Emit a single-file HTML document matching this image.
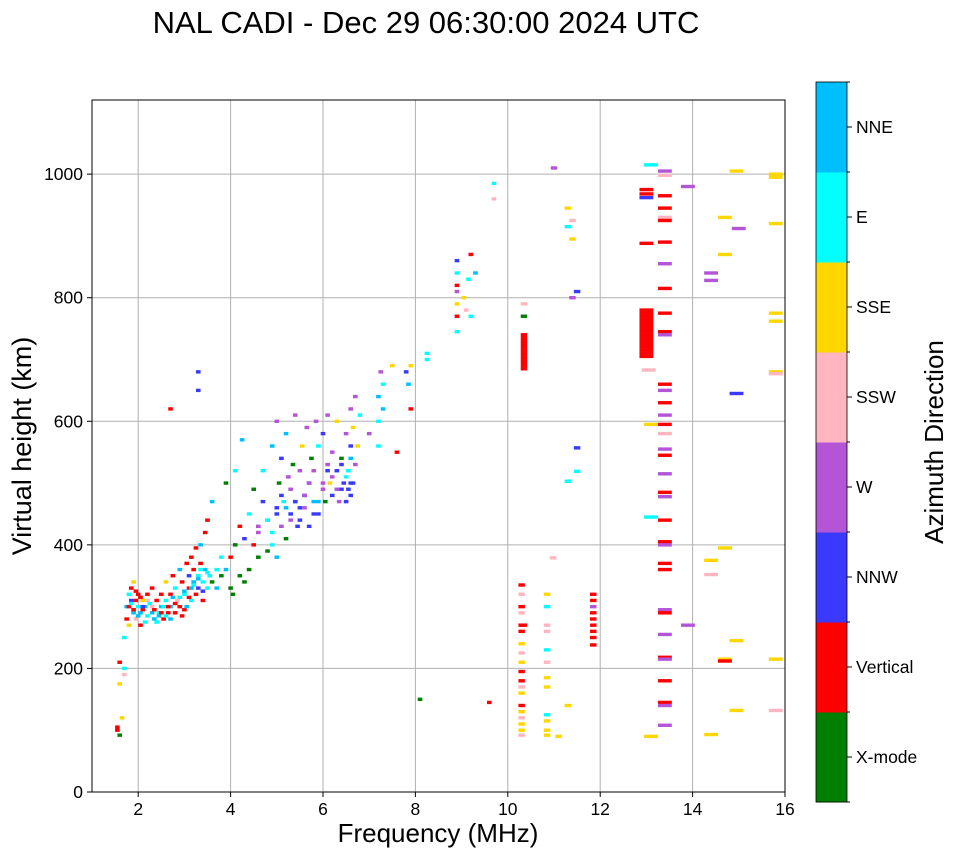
<!DOCTYPE html>
<html><head><meta charset="utf-8"><style>
body{margin:0;background:#fff;}
svg text{font-family:"Liberation Sans",sans-serif;fill:#000;}
</style></head><body>
<svg id="chart" width="958" height="857" viewBox="0 0 958 857" xmlns="http://www.w3.org/2000/svg">
<text x="426" y="33" font-size="31" text-anchor="middle">NAL CADI - Dec 29 06:30:00 2024 UTC</text>
<g id="grid"></g>
<g id="marks"></g>
<rect x="92" y="100" width="693" height="692" fill="none" stroke="#000" stroke-width="1"/>
<g id="axes"></g>
<text x="438" y="842" font-size="26" text-anchor="middle">Frequency (MHz)</text>
<text transform="translate(31,446) rotate(-90)" font-size="27" text-anchor="middle">Virtual height (km)</text>
<g id="cbar"></g>
<text transform="translate(943,442) rotate(-90)" font-size="26" text-anchor="middle">Azimuth Direction</text>
</svg>
<script>
const xTicks=[2,4,6,8,10,12,14,16];
const yTicks=[0,200,400,600,800,1000];
const dirNames=["X-mode","Vertical","NNW","W","SSW","SSE","E","NNE"];
const dirColors=["#008000","#ff0000","#3a3aff","#b455d8","#ffb6c1","#ffd700","#00ffff","#00bfff"];

const traceF=[1.55,1.55,1.6,1.6,1.6,1.65,1.7,1.7,1.7,1.75,1.75,1.8,1.8,1.8,1.85,1.85,1.9,1.9,1.95,1.95,2.0,2.0,2.05,2.05,2.1,2.1,2.15,2.2,2.2,2.3,2.3,2.35,2.4,2.45,2.5,2.5,2.55,2.6,2.6,2.65,2.7,2.7,2.75,2.8,2.8,2.85,2.9,2.9,2.95,3.0,3.0,3.05,3.05,3.1,3.1,3.15,3.15,3.2,3.2,3.25,3.25,3.3,3.3,3.35,3.35,3.4,3.4,3.45,3.45,3.5,3.5,3.55,3.6,3.6,3.7,3.7,3.8,3.8,3.9,3.9];
const traceH=[100,105,92,175,210,120,200,190,250,280,300,320,300,270,310,330,290,340,310,280,300,320,290,270,310,295,300,285,320,300,330,280,310,290,320,300,280,340,310,290,320,300,350,290,330,310,300,360,340,320,295,370,300,330,350,380,310,340,360,320,395,350,330,370,400,340,310,420,360,330,440,350,470,340,360,330,350,380,500,360];
const traceD=[1,1,0,5,1,5,6,4,6,1,7,6,1,5,2,1,7,5,1,4,6,1,7,1,5,1,7,6,1,4,1,7,1,6,1,7,1,5,6,1,1,7,1,1,6,4,1,7,1,6,1,1,7,1,2,1,6,7,1,1,1,6,2,1,7,6,1,1,7,6,1,6,7,0,6,7,0,6,0,7];

const denseF=[1.85,1.9,2.0,2.1,2.2,2.3,2.4,2.5,2.6,2.7,2.8,2.9,3.0,3.1,3.2,3.3,3.4,3.5,1.95,2.15,2.35,2.55,2.75,2.95,3.15,3.35,2.05,2.25,2.45,2.65];
const denseH=[305,295,285,300,310,290,275,290,285,280,305,315,325,315,335,345,325,355,325,275,295,300,315,285,330,360,315,305,285,300];
const denseD=[6,1,7,2,4,7,6,1,6,7,1,6,7,1,6,7,2,6,1,6,1,6,7,1,7,6,1,6,7,1];

const midF=[4.0,4.0,4.05,4.1,4.1,4.2,4.2,4.25,4.3,4.3,4.4,4.4,4.5,4.5,4.6,4.6,4.7,4.7,4.8,4.8,4.9,4.9,5.0,5.0,5.0,5.05,5.1,5.1,5.15,5.2,5.2,5.3,5.3,5.35,5.4,5.4,5.5,5.5,5.55,5.6,5.6,5.65,5.7,5.7,5.75,5.8,5.8,5.85,5.9,5.9,6.0,6.0,6.05,6.1,6.1,6.15,6.2,6.2,6.3,6.3,6.35,6.4,6.45,6.5,6.55,6.55,6.6,6.6,6.65,6.65,6.7,6.7,6.75,6.8,6.6,6.6,6.6,6.5,6.5,6.4];
const midH=[330,380,320,400,520,350,430,570,340,410,360,450,490,400,430,380,520,470,390,440,560,420,460,380,600,500,430,540,470,580,410,490,450,530,610,470,440,520,560,480,460,590,500,430,540,470,520,600,450,560,490,580,470,530,610,500,480,550,520,600,470,540,500,580,490,520,560,620,590,500,530,640,560,610,480,500,540,470,510,490];
const midD=[0,1,0,0,6,0,1,7,0,2,0,6,0,1,3,0,6,2,0,3,7,6,2,7,3,0,3,2,6,7,0,3,2,0,3,7,2,3,5,2,3,3,2,2,0,7,3,3,2,6,3,2,0,3,3,5,2,3,2,5,3,0,2,3,2,6,2,3,5,2,3,3,5,6,2,2,7,2,6,2];

const mid2F=[4.6,4.8,5.0,5.2,5.4,5.6,5.8,6.0,6.2,6.4,5.1,5.3,5.5,5.7,5.9,6.1,6.3,4.9,5.25,5.45];
const mid2H=[420,440,450,460,470,480,450,500,510,530,480,440,460,500,470,520,490,400,510,430];
const mid2D=[3,6,2,7,2,3,2,3,3,2,2,3,2,3,7,2,3,6,3,2];

const upperF=[7.0,7.2,7.2,7.2,7.25,7.3,7.3,7.5,7.6,7.8,7.85,7.9,7.9,8.25,8.25,8.1,2.7,3.3,3.3];
const upperH=[580,560,600,640,680,660,620,690,550,680,660,620,690,700,710,150,620,680,650];
const upperD=[3,6,6,7,3,6,7,5,1,2,7,1,5,6,6,0,1,2,2];

const f9F=[8.9,8.9,8.9,8.9,8.9,8.9,8.9,9.05,9.1,9.15,9.2,9.2,9.3,9.7,9.7,9.6];
const f9H=[770,790,810,820,860,840,745,800,780,830,870,770,840,985,960,145];
const f9D=[1,5,3,1,2,6,6,5,4,6,1,6,7,6,4,1];

const col103H=[335,320,300,290,270,260,240,225,210,195,180,170,160,140,130,120,110,100,92];
const col103D=[1,4,1,4,1,1,5,4,5,1,1,4,5,1,5,4,5,5,4];
const col1035H=[770,740,735,730,725,720,715,710,705,700,695,690,685,790,270];
const col1035D=[0,1,1,1,1,1,1,1,1,1,1,1,1,4,1];
const col1085H=[320,300,270,260,230,210,185,170,125,115,100,92];
const col1085D=[5,6,4,4,6,4,5,5,6,5,5,5];

const misc11F=[11.0,11.1,11.3,11.3,11.3,11.4,11.4,11.5,11.3,11.4,11.5,11.5,10.98];
const misc11H=[1010,90,140,945,915,925,895,519,503,800,810,557,379];
const misc11D=[3,5,5,5,6,4,5,6,6,3,2,2,4];

const col1185H=[320,310,300,290,280,270,260,250,238];
const col1185D=[1,1,3,1,1,1,1,1,1];

const col130H=[975,968,962,888,780,775,770,765,760,755,750,745,740,735,730,725,720,715,710,705];
const col130D=[1,1,2,1,1,1,1,1,1,1,1,1,1,1,1,1,1,1,1,1];

const misc13F=[13.05,13.1,13.1,13.1,13.1];
const misc13H=[683,595,445,90,1015];
const misc13D=[4,5,6,5,6];

const col134H=[1005,998,965,945,930,925,890,855,815,775,745,740,660,650,630,610,595,580,555,545,515,485,478,440,405,400,370,360,295,290,255,218,215,180,145,140,108];
const col134D=[3,4,1,1,4,1,1,3,1,1,1,3,1,3,1,3,1,4,3,1,3,1,3,1,1,3,1,1,3,1,3,1,3,1,1,3,3];

const farF=[13.9,13.9,14.4,14.4,14.4,14.4,14.4,14.7,14.7,14.7,14.7,14.7,14.95,15.0,14.95,14.95,14.95,15.8,15.8,15.8,15.8,15.8,15.8,15.8,15.8,15.8];
const farH=[980,270,840,828,375,352,93,930,870,395,215,212,1005,912,645,245,132,1000,995,920,775,762,680,677,215,132];
const farD=[3,3,3,3,5,4,5,5,5,5,5,1,5,3,2,5,5,5,5,5,5,5,5,4,5,4];

const X0=92,X1=785,Y0=792,Y1=100;
const fx=f=>X0+(f-1)/(16-1)*(X1-X0);
const hy=h=>Y0-h/1120*(Y0-Y1);
const NS="http://www.w3.org/2000/svg";
function mk(tag,attrs,parent){const e=document.createElementNS(NS,tag);for(const k in attrs)e.setAttribute(k,attrs[k]);parent.appendChild(e);return e;}
const grid=document.getElementById('grid'),axes=document.getElementById('axes'),marks=document.getElementById('marks'),cbar=document.getElementById('cbar');
xTicks.forEach(t=>{
  const x=fx(t);
  if(t<16){const l=mk('line',{x1:x,x2:x,y1:Y1,y2:Y0,stroke:'#b0b0b0','stroke-width':1},grid);
  
  }
  mk('line',{x1:x,x2:x,y1:Y0,y2:Y0+5,stroke:'#000'},axes);
  const tx=mk('text',{x:x,y:Y0+23,'font-size':17.5,'text-anchor':'middle'},axes);tx.textContent=t;
  
  
});
yTicks.forEach(t=>{
  const y=hy(t);
  const l=mk('line',{x1:X0,x2:X1,y1:y,y2:y,stroke:'#b0b0b0','stroke-width':1},grid);
  
  
  mk('line',{x1:X0-5,x2:X0,y1:y,y2:y,stroke:'#000'},axes);
  const tx=mk('text',{x:X0-9,y:y+6,'font-size':17.5,'text-anchor':'end'},axes);tx.textContent=t;
  
  
});
function cell(f,h,d){
  if(f===undefined||h===undefined||d===undefined)return;
  const w=f>12.5?0.3:(f>10?0.14:0.1);
  const x=fx(f-w/2),x2=fx(f+w/2);
  const r=mk('rect',{x:x,y:hy(h)-1.7,width:x2-x,height:3.4,fill:dirColors[d]},marks);
  
  
}
function drawSet(F,H,D){for(let i=0;i<H.length;i++)cell(Array.isArray(F)?F[i]:F,H[i],D[i]);}
drawSet(traceF,traceH,traceD);
drawSet(denseF,denseH,denseD);
drawSet(midF,midH,midD);
drawSet(mid2F,mid2H,mid2D);
drawSet(upperF,upperH,upperD);
drawSet(f9F,f9H,f9D);
drawSet(10.3,col103H,col103D);
drawSet(10.35,col1035H,col1035D);
drawSet(10.85,col1085H,col1085D);
drawSet(misc11F,misc11H,misc11D);
drawSet(11.85,col1185H,col1185D);
drawSet(13.0,col130H,col130D);
drawSet(misc13F,misc13H,misc13D);
drawSet(13.4,col134H,col134D);
drawSet(farF,farH,farD);

const CB0=802,CB1=82,CX=816,CW=31,seg=(CB0-CB1)/dirNames.length;
dirNames.forEach((n,i)=>{
  const y=CB0-(i+1)*seg;
  const r=mk('rect',{x:CX,y:y,width:CW,height:seg+0.5,fill:dirColors[i]},cbar);
  
  
  mk('line',{x1:CX+CW,x2:CX+CW+5,y1:y+seg/2,y2:y+seg/2,stroke:'#000'},cbar);
  const t=mk('text',{x:CX+CW+9,y:y+seg/2+6,'font-size':17.5},cbar);t.textContent=n;
  
  
});
for(let i=0;i<=dirNames.length;i++){const y=CB0-i*seg;mk('line',{x1:CX+CW,x2:CX+CW+3,y1:y,y2:y,stroke:'#000'},cbar);}
mk('rect',{x:CX,y:CB1,width:CW,height:CB0-CB1,fill:'none',stroke:'#000','stroke-width':0.8},cbar);
</script>
</body></html>
